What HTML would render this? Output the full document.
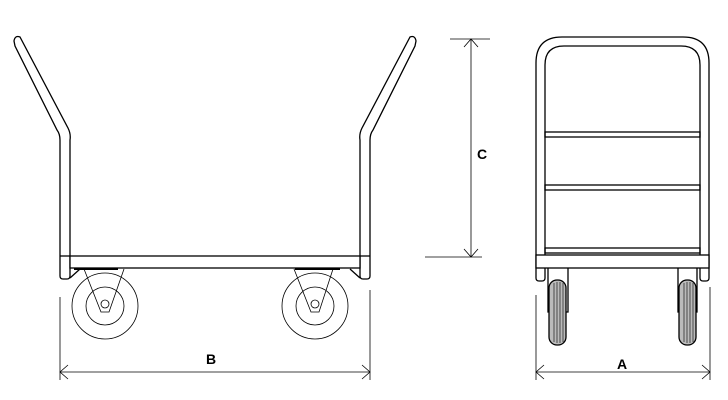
<!DOCTYPE html><html><head><style>body{margin:0;background:#fff}svg{display:block}text{font-family:"Liberation Sans",sans-serif;font-weight:bold;font-size:14px}</style></head><body>
<svg width="728" height="400" viewBox="0 0 728 400" xmlns="http://www.w3.org/2000/svg">
<g fill="none" stroke="#000" stroke-width="1.3">
<!-- side view handles -->
<path d="M14,41 Q15,35 20,37 L68,128 Q71,134 70,140 L70,276 Q70,279 67,279 L63,279 Q60,279 60,276 L60,140 Q60,134 57,130 L15,46 Z" fill="#fff"/>
<path d="M416,41 Q415,35 410,37 L362,128 Q359,134 360,140 L360,276 Q360,279 363,279 L367,279 Q370,279 370,276 L370,140 Q370,134 373,130 L415,46 Z" fill="#fff"/>
<line x1="60" y1="256" x2="70" y2="256"/><line x1="360" y1="256" x2="370" y2="256"/>
<rect x="70" y="256" width="290" height="12" fill="#fff"/>
<line x1="74" y1="269" x2="118" y2="269" stroke-width="2"/><line x1="295" y1="269" x2="340" y2="269" stroke-width="2"/>
<path d="M70,278 L80,269"/><path d="M360,278 L350,269"/>
</g>
<g fill="none" stroke="#000" stroke-width="0.8">
<circle cx="105" cy="306" r="33"/><circle cx="105" cy="306" r="19"/><circle cx="105" cy="304" r="4"/>
<path d="M84,269 L101,312 L109,312 L124,269"/>
<circle cx="315" cy="306" r="33"/><circle cx="315" cy="306" r="19"/><circle cx="315" cy="304" r="4"/>
<path d="M294,269 L311,312 L319,312 L333,269"/>
<!-- dims side -->
<line x1="60" y1="297" x2="60" y2="380"/><line x1="370" y1="290" x2="370" y2="380"/>
<line x1="60" y1="372" x2="370" y2="372"/>
<path d="M68,365 L60,372 L68,379 M362,365 L370,372 L362,379"/>
<line x1="450" y1="39" x2="490" y2="39"/><line x1="425" y1="257" x2="482" y2="257"/>
<line x1="471" y1="39" x2="471" y2="257"/>
<path d="M464,47 L471,39 L478,47 M464,249 L471,257 L478,249"/>
<!-- dims front -->
<line x1="536" y1="295" x2="536" y2="380"/><line x1="710" y1="287" x2="710" y2="380"/>
<line x1="536" y1="372" x2="710" y2="372"/>
<path d="M544,365 L536,372 L544,379 M702,365 L710,372 L702,379"/>
</g>
<text x="206" y="364">B</text><text x="477" y="159">C</text><text x="617" y="369">A</text>
<!-- front view -->
<g fill="none" stroke="#000" stroke-width="1.3">
<path d="M536,278 L536,63 Q536,37 562,37 L683,37 Q709,37 709,63 L709,278 Q709,281 706,281 L703,281 Q700,281 700,278 L700,65 Q700,46 681,46 L564,46 Q545,46 545,65 L545,278 Q545,281 542,281 L539,281 Q536,281 536,278 Z" fill="#fff"/>
<rect x="545" y="132" width="155" height="5"/>
<rect x="545" y="185" width="155" height="5"/>
<rect x="545" y="248" width="155" height="5"/>
<rect x="536" y="255" width="173" height="13" fill="#fff"/>
<path d="M548,268 L548,312 L568,312 L568,268 M678,268 L678,312 L697,312 L697,268"/>
<rect x="549" y="280" width="17" height="65" rx="8" fill="#bbb"/>
<rect x="679" y="280" width="17" height="65" rx="8" fill="#bbb"/>
</g>
<g stroke="#000" stroke-width="0.6">
<path d="M554,283 V342 M557,282 V343 M560,282 V343 M563,283 V342 M684,283 V342 M687,282 V343 M690,282 V343 M693,283 V342"/>
</g>
</svg>
</body></html>
